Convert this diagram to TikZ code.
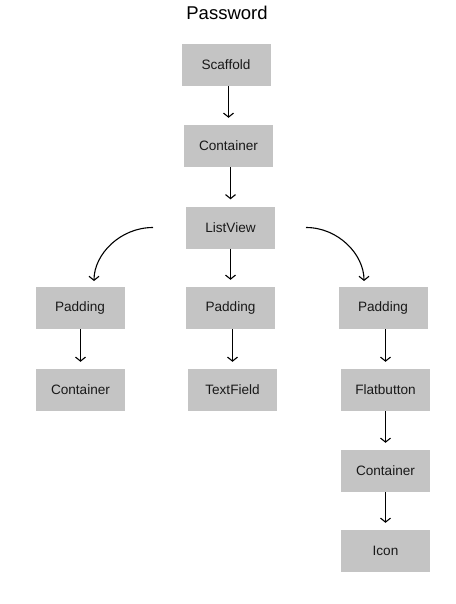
\documentclass[tikz,border=0pt]{standalone}
\usepackage{fontspec}
\setmainfont{Liberation Sans}
\usepackage{xcolor}
\usepackage{tikz}
\usetikzlibrary{arrows.meta}
\definecolor{boxgray}{HTML}{C4C4C4}
\tikzset{
  widget/.style={fill=boxgray, minimum width=89pt, minimum height=42pt, inner sep=0pt, text=black!90, font=\fontsize{13.6}{16}\selectfont},
  arr/.style={line width=1.1pt, -{Straight Barb[length=4pt,width=10pt]}, shorten >=7pt}
}
\begin{document}
\begin{tikzpicture}[x=1pt, y=-1pt]
\useasboundingbox[fill=white] (0,0) rectangle (455,604);
\node (Title) at (227,13) {\fontsize{18.5}{21}\selectfont Password};
\node[widget] (Scaffold) at (226,65) {Scaffold};
\node[widget] (ContainerTop) at (228.5,146) {Container};
\node[widget] (ListView) at (230.5,227.5) {ListView};
\node[widget] (PaddingL) at (80,308) {Padding};
\node[widget] (PaddingM) at (230.5,308) {Padding};
\node[widget] (PaddingR) at (383,308) {Padding};
\node[widget] (ContainerL) at (80.5,390) {Container};
\node[widget] (TextField) at (232.5,390) {TextField};
\node[widget] (Flatbutton) at (385.5,390) {Flatbutton};
\node[widget] (ContainerR) at (385.5,471) {Container};
\node[widget] (Icon) at (385.5,551) {Icon};
\coordinate (ListViewL) at (153,227.5);
\coordinate (ListViewR) at (306,227.5);
\coordinate (PaddingLTop) at (94,287);
\coordinate (PaddingRTop) at (364,287);
\draw[arr] (Scaffold.south -| ContainerTop) -- (ContainerTop.north);
\draw[arr] (ContainerTop.south -| ListView) -- (ListView.north);
\draw[arr] (ListView.south -| PaddingM) -- (PaddingM.north);
\draw[arr, shorten >=6pt] (ListViewL) to[out=180, in=90] (PaddingLTop);
\draw[arr, shorten >=6pt] (ListViewR) to[out=0, in=90] (PaddingRTop);
\draw[arr] (PaddingL.south -| ContainerL) -- (ContainerL.north);
\draw[arr] (PaddingM.south -| TextField) -- (TextField.north);
\draw[arr] (PaddingR.south -| Flatbutton) -- (Flatbutton.north);
\draw[arr] (Flatbutton.south -| ContainerR) -- (ContainerR.north);
\draw[arr] (ContainerR.south -| Icon) -- (Icon.north);
\end{tikzpicture}
\end{document}
